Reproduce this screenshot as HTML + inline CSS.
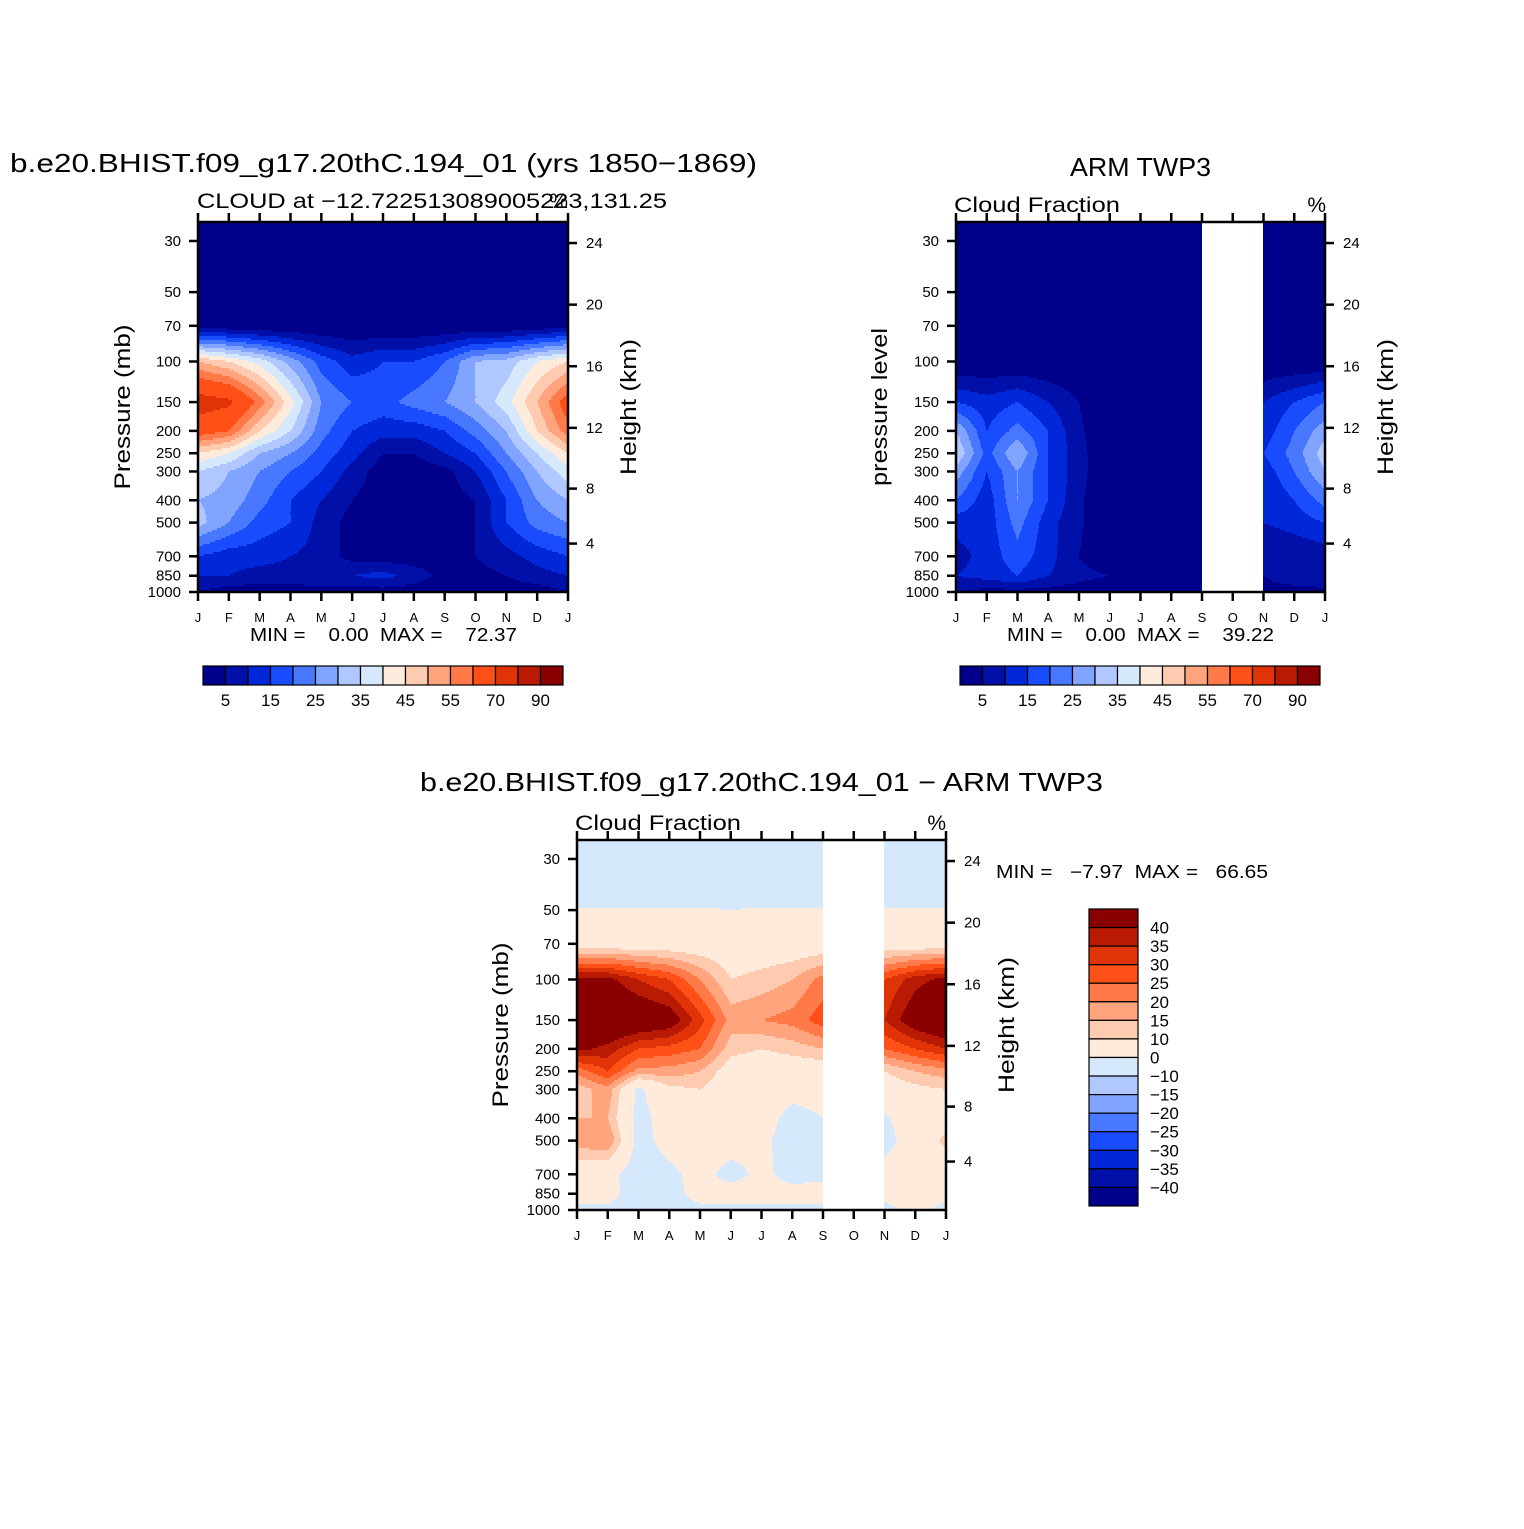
<!DOCTYPE html>
<html><head><meta charset="utf-8"><style>
html,body{margin:0;padding:0;background:#fff;}
svg text{font-family:"Liberation Sans",sans-serif;fill:#000;}
</style></head><body>
<svg id="root" width="1524" height="1524" viewBox="0 0 1524 1524" xmlns="http://www.w3.org/2000/svg">
<rect width="1524" height="1524" fill="#fff"/>
<g id="p1"></g>
<g id="p2"></g>
<g id="p3"></g>
<text x="10" y="172" font-size="26" textLength="747" lengthAdjust="spacingAndGlyphs">b.e20.BHIST.f09_g17.20thC.194_01 (yrs 1850−1869)</text>
<text x="197" y="208" font-size="21" textLength="470" lengthAdjust="spacingAndGlyphs">CLOUD at −12.722513089005223,131.25</text>
<text x="568" y="208" font-size="21" text-anchor="end">%</text>
<text x="1070" y="176" font-size="26" textLength="141" lengthAdjust="spacingAndGlyphs">ARM TWP3</text>
<text x="954" y="212" font-size="21" textLength="166" lengthAdjust="spacingAndGlyphs">Cloud Fraction</text>
<text x="1326" y="212" font-size="21" text-anchor="end">%</text>
<text x="420" y="791" font-size="26" textLength="683" lengthAdjust="spacingAndGlyphs">b.e20.BHIST.f09_g17.20thC.194_01 − ARM TWP3</text>
<text x="575" y="830" font-size="21" textLength="166" lengthAdjust="spacingAndGlyphs">Cloud Fraction</text>
<text x="946" y="830" font-size="21" text-anchor="end">%</text>
<text x="250" y="641" font-size="18" xml:space="preserve" textLength="267" lengthAdjust="spacingAndGlyphs">MIN =    0.00  MAX =    72.37</text>
<text x="1007" y="641" font-size="18" xml:space="preserve" textLength="267" lengthAdjust="spacingAndGlyphs">MIN =    0.00  MAX =    39.22</text>
<text x="996" y="878" font-size="18" xml:space="preserve" textLength="272" lengthAdjust="spacingAndGlyphs">MIN =   −7.97  MAX =   66.65</text>
</svg>
<script>
// ---- shared data ----
const pressureLevels = [1000,850,700,500,400,300,250,200,150,100,70,50,30];
const monthLabels = ["J","F","M","A","M","J","J","A","S","O","N","D","J"];
const pressureTicks = [30,50,70,100,150,200,250,300,400,500,700,850,1000];
const heightTicks = [4,8,12,16,20,24];
const absBounds = [5,10,15,20,25,30,35,40,45,50,55,60,70,80,90];
const absBarLabels = ["5","15","25","35","45","55","70","90"];
const diffBounds = [-40,-35,-30,-25,-20,-15,-10,0,10,15,20,25,30,35,40];
const diffBarLabels = ["40","35","30","25","20","15","10","0","−10","−15","−20","−25","−30","−35","−40"];
const palette = ["#00008a","#0010a8","#0028d8","#1a4cff","#4878ff","#80a4ff","#b0c8ff","#d6e8fc","#ffebdc","#ffcbb0","#ffa47c","#ff7a48","#ff5018","#e03408","#b81a04","#8a0000"];

// ---- model cloud (rows = pressure levels, cols = months J..J) ----
const model1000 = [5,2,2,2,2,2,2,2,2,2,2,2,5];
const model850  = [10,10,8,8,10,10,12,8,3,3,5,8,10];
const model700  = [15,12,12,10,8,3,2,2,2,5,8,12,15];
const model500  = [32,25,18,15,8,3,1,1,2,5,15,22,25];
const model400  = [30,28,22,15,10,5,2,2,2,5,15,25,30];
const model300  = [35,30,25,20,15,8,2,2,3,10,20,30,38];
const model250  = [45,40,30,25,18,12,5,5,10,15,25,35,45];
const model200  = [64,60,45,35,22,15,12,12,15,22,30,45,58];
const model150  = [75,72,58,42,25,20,18,22,25,30,38,50,64];
const model100  = [50,45,38,28,18,12,15,15,20,30,32,40,45];
const model70   = [2,1,0,0,0,0,0,0,0,0,0,1,3];
const model50   = [0,0,0,0,0,0,0,0,0,0,0,0,0];
const model30   = [0,0,0,0,0,0,0,0,0,0,0,0,0];

// ---- ARM TWP3 observations (null = missing) ----
const obs1000 = [5,3,3,3,2,0,0,0,0,null,3,3,3];
const obs850  = [10,12,15,10,7,5,0,0,0,null,5,8,10];
const obs700  = [8,12,18,12,5,0,0,0,0,null,5,6,7];
const obs500  = [12,12,22,12,6,0,0,0,0,null,10,12,15];
const obs400  = [20,12,25,15,6,0,0,0,0,null,10,15,22];
const obs300  = [28,15,25,15,7,0,0,0,0,null,12,20,30];
const obs250  = [35,18,30,15,7,0,0,0,0,null,15,22,33];
const obs200  = [30,15,22,15,6,0,0,0,0,null,12,20,28];
const obs150  = [15,12,15,10,5,0,0,0,0,null,10,15,20];
const obs100  = [0,0,0,0,0,0,0,0,0,null,0,0,0];
const obs70   = [0,0,0,0,0,0,0,0,0,null,0,0,0];
const obs50   = [0,0,0,0,0,0,0,0,0,null,0,0,0];
const obs30   = [0,0,0,0,0,0,0,0,0,null,0,0,0];

// ---- difference ----
const diff1000 = [-2,-1,-3,-3,-2,-2,-2,-2,-3,null,-2,2,-2];
const diff850  = [3,2,-3,-3,3,4,4,3,5,null,2,3,2];
const diff700  = [4,3,-5,-2,3,-3,2,-3,-3,null,2,3,4];
const diff500  = [18,20,-3,3,5,4,2,-4,-3,null,-2,3,12];
const diff400  = [15,15,-3,4,5,4,4,-3,0,null,-1,4,6];
const diff300  = [12,18,-2,8,10,5,5,3,3,null,5,8,10];
const diff250  = [22,30,18,18,15,6,5,5,5,null,10,15,18];
const diff200  = [42,38,30,28,25,12,10,12,15,null,25,30,35];
const diff150  = [50,50,48,45,32,18,20,22,28,null,35,45,50];
const diff100  = [42,42,35,30,20,10,12,15,22,null,30,38,42];
const diff70   = [5,5,5,5,5,5,5,5,5,null,5,5,5];
const diff50   = [0.1,0.1,0.1,0.1,0.1,0.05,0.1,0.1,0.1,null,0.1,0.1,0.1];
const diff30   = [-3,-3,-3,-3,-3,-3,-3,-3,-3,null,-3,-3,-3];

const modelRows = [model1000,model850,model700,model500,model400,model300,model250,model200,model150,model100,model70,model50,model30];
const obsRows = [obs1000,obs850,obs700,obs500,obs400,obs300,obs250,obs200,obs150,obs100,obs70,obs50,obs30];
const diffRows = [diff1000,diff850,diff700,diff500,diff400,diff300,diff250,diff200,diff150,diff100,diff70,diff50,diff30];

const NS = "http://www.w3.org/2000/svg";
const PXDEC = 230.5;
const logLev = pressureLevels.map(p => Math.log10(p));
function mk(tag, attrs, parent){const e=document.createElementNS(NS,tag);for(const k in attrs)e.setAttribute(k,attrs[k]);parent.appendChild(e);return e;}
function yOfP(y0,H,p){return y0+H-(3-Math.log10(p))*PXDEC;}
function pOfH(h){ // standard atmosphere
  if(h<=11) return 1013.25*Math.pow(1-h/44.33,5.256);
  return 226.3*Math.exp(-(h-11)/6.5);
}
function classify(v,bounds){let i=0;while(i<bounds.length&&v>=bounds[i])i++;return i;}
function sample(rows,mf,lp){
  let li=0; if(lp<=logLev[logLev.length-1]){li=logLev.length-2;lp=logLev[logLev.length-1];}
  else{while(li<logLev.length-2&&lp<logLev[li+1])li++;}
  const ty=(logLev[li]-lp)/(logLev[li]-logLev[li+1]);
  let ci=Math.min(11,Math.floor(mf)); const tx=mf-ci;
  const a=rows[li][ci],b=rows[li][ci+1],c=rows[li+1][ci],d=rows[li+1][ci+1];
  if(a===null||b===null||c===null||d===null)return null;
  const top=a*(1-tx)+b*tx, bot=c*(1-tx)+d*tx;
  return top*(1-ty)+bot*ty;
}
function drawField(g,x0,y0,W,H,rows,bounds){
  const fg=mk("g",{},g);
  
  
  const step=2;
  for(let py=0;py<H;py+=step){
    const lp=3-(H-(py+step/2))/PXDEC;
    let runStart=0,runCol=undefined;
    for(let px=0;px<=W;px++){
      let col=null;
      if(px<W){const v=sample(rows,(px+0.5)/W*12,lp);col=v===null?null:palette[classify(v,bounds)];}
      else col="END";
      if(col!==runCol){
        if(runCol!==undefined&&runCol!==null){
          const r=mk("rect",{x:x0+runStart,y:y0+py,width:px-runStart,height:step+0.5,fill:runCol},fg);
          
          
        }
        runStart=px;runCol=col;
      }
    }
  }
}
function drawAxes(g,x0,y0,W,H){
  const s={stroke:"#000","stroke-width":2.5,fill:"none"};
  const fr=mk("rect",Object.assign({x:x0,y:y0,width:W,height:H},s),g);
  
  
  monthLabels.forEach((m,i)=>{
    const x=x0+i*W/12;
    mk("line",{x1:x,y1:y0+H,x2:x,y2:y0+H+9,stroke:"#000","stroke-width":2.5},g);
    mk("line",{x1:x,y1:y0,x2:x,y2:y0-9,stroke:"#000","stroke-width":2.5},g);
    const t=mk("text",{x:x,y:y0+H+30,"font-size":13,"text-anchor":"middle"},g);t.textContent=m;
    
    
  });
  pressureTicks.forEach(p=>{
    const y=yOfP(y0,H,p);
    mk("line",{x1:x0,y1:y,x2:x0-9,y2:y,stroke:"#000","stroke-width":2.5},g);
    const t=mk("text",{x:x0-17,y:y+5,"font-size":15,"text-anchor":"end"},g);t.textContent=p;
    
    
  });
  heightTicks.forEach(h=>{
    const y=yOfP(y0,H,pOfH(h));
    mk("line",{x1:x0+W,y1:y,x2:x0+W+9,y2:y,stroke:"#000","stroke-width":2.5},g);
    const t=mk("text",{x:x0+W+18,y:y+5,"font-size":15},g);t.textContent=h;
    
    
  });
}
function ylabel(g,x,y,txt,len,name){
  const t=mk("text",{x:x,y:y,"font-size":22,"text-anchor":"middle",textLength:len,lengthAdjust:"spacingAndGlyphs",transform:`rotate(-90 ${x} ${y})`},g);
  t.textContent=txt;
  
  
}
function hbar(g,x0,y0){
  const bw=22.5,bh=19;
  palette.forEach((c,i)=>{
    const r=mk("rect",{x:x0+i*bw,y:y0,width:bw,height:bh,fill:c,stroke:"#000","stroke-width":1.2},g);
    
    
  });
  absBarLabels.forEach((l,i)=>{
    const t=mk("text",{x:x0+(2*i+1)*bw,y:y0+40,"font-size":17,"text-anchor":"middle"},g);t.textContent=l;
    
    
  });
}
function vbar(g,x0,y0){
  const bw=49,bh=18.56;
  for(let i=0;i<16;i++){
    const r=mk("rect",{x:x0,y:y0+i*bh,width:bw,height:bh,fill:palette[15-i],stroke:"#000","stroke-width":1.2},g);
    
    
  }
  diffBarLabels.forEach((l,i)=>{
    const t=mk("text",{x:x0+bw+12,y:y0+(i+1)*bh+6,"font-size":17},g);t.textContent=l;
    
    
  });
}
const p1=document.getElementById("p1"),p2=document.getElementById("p2"),p3=document.getElementById("p3");
drawField(p1,198,222,370,370,modelRows,absBounds);drawAxes(p1,198,222,370,370);
ylabel(p1,130,407,"Pressure (mb)",165,"y-axis-title");ylabel(p1,636,407,"Height (km)",136,"y2-axis-title");
hbar(p1,203,666);
drawField(p2,956,222,369,370,obsRows,absBounds);drawAxes(p2,956,222,369,370);
ylabel(p2,887,407,"pressure level",158,"y-axis-title");ylabel(p2,1393,407,"Height (km)",136,"y2-axis-title");
hbar(p2,960,666);
drawField(p3,577,840,369,370,diffRows,diffBounds);drawAxes(p3,577,840,369,370);
ylabel(p3,508,1025,"Pressure (mb)",165,"y-axis-title");ylabel(p3,1014,1025,"Height (km)",136,"y2-axis-title");
vbar(p3,1089,909);
</script>
</body></html>
